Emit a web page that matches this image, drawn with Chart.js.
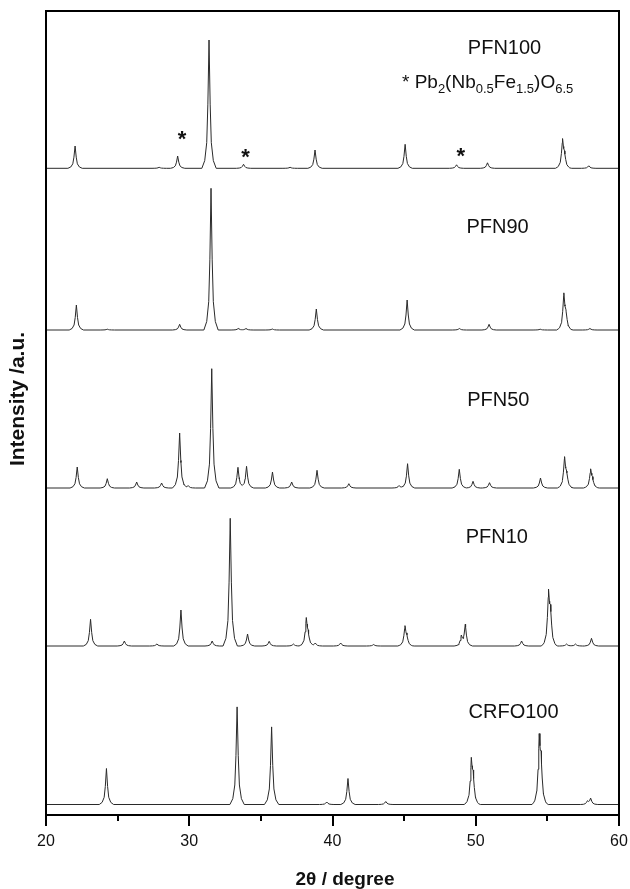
<!DOCTYPE html>
<html>
<head>
<meta charset="utf-8">
<script src="https://cdn.jsdelivr.net/npm/chart.js@4.4.1/dist/chart.umd.min.js"></script>
<style>
  html, body { margin: 0; padding: 0; background: #fff; }
  canvas { display: block; }
</style>
</head>
<body>
<canvas id="xrd" width="630" height="889"></canvas>
<script>
// sample names, top to bottom, and the vertical offset of each pattern (a.u.)
const samples = ['PFN100', 'PFN90', 'PFN50', 'PFN10', 'CRFO100'];
const offsets = [646.7, 485, 327, 169, 10.5];

// peak positions (2θ) and heights (a.u.)
const pfn100Pos = [22.03, 27.9, 29.19, 31.38, 33.79, 37.04, 38.78, 45.07, 48.66, 50.82, 56.06, 56.2, 57.89];
const pfn100Int = [22.3, 1, 12.3, 128.3, 4, 1, 18.3, 24, 3.5, 5.5, 27, 10, 2.5];

const pfn90Pos = [22.12, 24.28, 29.33, 31.52, 33.42, 33.96, 35.8, 38.87, 45.21, 48.86, 50.93, 54.5, 56.15, 56.3, 57.97];
const pfn90Int = [25, 0.8, 5.7, 141.7, 1.5, 1.5, 1, 21, 30, 1.5, 5.7, 0.8, 34.3, 12, 1.5];

const pfn50Pos = [22.18, 24.28, 26.33, 28.07, 29.33, 29.92, 31.57, 33.4, 34.0, 35.81, 37.15, 38.92, 41.14, 44.65, 45.24, 48.85, 49.81, 50.96, 54.52, 56.2, 56.35, 58.02, 58.15];
const pfn50Int = [21, 9.3, 6, 5, 55, 2.5, 119.3, 20.7, 21.7, 16, 6, 17.7, 4.3, 2.5, 24.3, 18.7, 6.7, 5.3, 10, 29, 10, 17.3, 6];

const pfn10Pos = [23.11, 25.47, 27.74, 29.42, 31.6, 32.86, 34.07, 35.58, 37.27, 38.17, 38.3, 38.8, 40.57, 42.87, 45.06, 45.2, 48.99, 49.27, 53.2, 55.08, 55.22, 56.34, 56.96, 58.08];
const pfn10Int = [26.7, 5, 2, 36, 5, 127.7, 12, 4.7, 2, 26, 8, 3, 3, 1.5, 18.7, 6, 9.3, 21, 5, 49.3, 28, 2, 2, 7.7];

const crfoPos = [24.22, 33.34, 35.75, 39.6, 41.08, 43.72, 49.69, 49.82, 54.43, 54.56, 57.8, 58.02];
const crfoInt = [36, 97.6, 77.6, 2.5, 26, 3, 40.3, 22, 60, 35, 3, 6];

const peakPos = [pfn100Pos, pfn90Pos, pfn50Pos, pfn10Pos, crfoPos];
const peakInt = [pfn100Int, pfn90Int, pfn50Int, pfn10Int, crfoInt];

// pyrochlore reflections marked with * in PFN100
const starX = [29.5, 33.93, 48.96];
const starY = [679, 661, 662.3];

const xTicks = [20, 30, 40, 50, 60];
const xMinor = [25, 35, 45, 55];

// profile shape of one reflection (offset in 2θ, fraction of the height)
const shapeDx = [-0.5, -0.3, -0.16, -0.08, 0, 0.08, 0.16, 0.3, 0.5];
const shapeFr = [0, 0.06, 0.2, 0.5, 1, 0.5, 0.2, 0.06, 0];

function shapeAt(d) {
  if (d <= shapeDx[0] || d >= shapeDx[shapeDx.length - 1]) return 0;
  for (let k = 1; k < shapeDx.length; k++) {
    if (d <= shapeDx[k]) {
      const t = (d - shapeDx[k - 1]) / (shapeDx[k] - shapeDx[k - 1]);
      return shapeFr[k - 1] + t * (shapeFr[k] - shapeFr[k - 1]);
    }
  }
  return 0;
}

function buildTrace(i) {
  const pos = peakPos[i], h = peakInt[i];
  let xs = [20, 60];
  pos.forEach(p => shapeDx.forEach(d => xs.push(+(p + d).toFixed(3))));
  xs = [...new Set(xs)].filter(x => x >= 20 && x <= 60).sort((a, b) => a - b);
  return xs.map(x => {
    let y = offsets[i];
    pos.forEach((p, k) => { y += h[k] * shapeAt(x - p); });
    return { x, y };
  });
}

// label anchors (left edge in 2θ, vertical centre in a.u.)
const labelX = [49.45, 49.35, 49.4, 49.3, 49.5];
const labelY = [767, 588, 415, 277.7, 102.3];

const FONT = '"Liberation Sans", Arial, Helvetica, sans-serif';

function drawRich(ctx, parts, x, y) {
  parts.forEach(([txt, sub]) => {
    ctx.font = (sub ? '13px ' : '19px ') + FONT;
    ctx.fillText(txt, x, sub ? y + 5 : y);
    x += ctx.measureText(txt).width;
  });
}

const decor = {
  id: 'decor',
  afterDatasetsDraw(chart) {
    const { ctx, chartArea: a, scales: { x, y } } = chart;
    ctx.save();
    ctx.strokeStyle = '#000';
    ctx.fillStyle = '#000';
    ctx.lineWidth = 2;
    ctx.strokeRect(a.left, a.top, a.right - a.left, a.bottom - a.top);

    xTicks.forEach(v => {
      const px = Math.round(x.getPixelForValue(v));
      ctx.beginPath(); ctx.moveTo(px, a.bottom); ctx.lineTo(px, a.bottom + 11); ctx.stroke();
    });
    xMinor.forEach(v => {
      const px = Math.round(x.getPixelForValue(v));
      ctx.beginPath(); ctx.moveTo(px, a.bottom); ctx.lineTo(px, a.bottom + 6); ctx.stroke();
    });

    ctx.fillStyle = '#111';
    ctx.font = '16px ' + FONT;
    ctx.textAlign = 'center';
    ctx.textBaseline = 'middle';
    xTicks.forEach(v => ctx.fillText(String(v), x.getPixelForValue(v), a.bottom + 27));

    ctx.font = 'bold 19px ' + FONT;
    ctx.fillText('2θ / degree', 345, 880);

    ctx.save();
    ctx.translate(18, 399);
    ctx.rotate(-Math.PI / 2);
    ctx.font = 'bold 21px ' + FONT;
    ctx.fillText('Intensity /a.u.', 0, 0);
    ctx.restore();

    // sample names
    ctx.textAlign = 'left';
    ctx.font = '20px ' + FONT;
    samples.forEach((s, i) => ctx.fillText(s, x.getPixelForValue(labelX[i]), y.getPixelForValue(labelY[i])));

    // phase note
    ctx.textBaseline = 'alphabetic';
    drawRich(ctx, [['* Pb', 0], ['2', 1], ['(Nb', 0], ['0.5', 1], ['Fe', 0], ['1.5', 1], [')O', 0], ['6.5', 1]],
      x.getPixelForValue(44.85), y.getPixelForValue(727));

    // asterisks
    ctx.textAlign = 'center';
    ctx.textBaseline = 'middle';
    ctx.font = 'bold 22px ' + FONT;
    starX.forEach((v, k) => ctx.fillText('*', x.getPixelForValue(v), y.getPixelForValue(starY[k]) + 4));
    ctx.restore();
  }
};

new Chart(document.getElementById('xrd'), {
  type: 'line',
  data: {
    datasets: samples.map((name, i) => ({
      label: name,
      data: buildTrace(i),
      borderColor: '#2a2a2a',
      borderWidth: 1,
      pointRadius: 0,
      tension: 0,
      fill: false
    }))
  },
  options: {
    responsive: false,
    animation: false,
    layout: { padding: { left: 46, right: 11, top: 11, bottom: 74 } },
    plugins: { legend: { display: false }, tooltip: { enabled: false } },
    scales: {
      x: { type: 'linear', min: 20, max: 60, display: false },
      y: { min: 0, max: 804, display: false }
    }
  },
  plugins: [decor]
});
</script>
</body>
</html>
